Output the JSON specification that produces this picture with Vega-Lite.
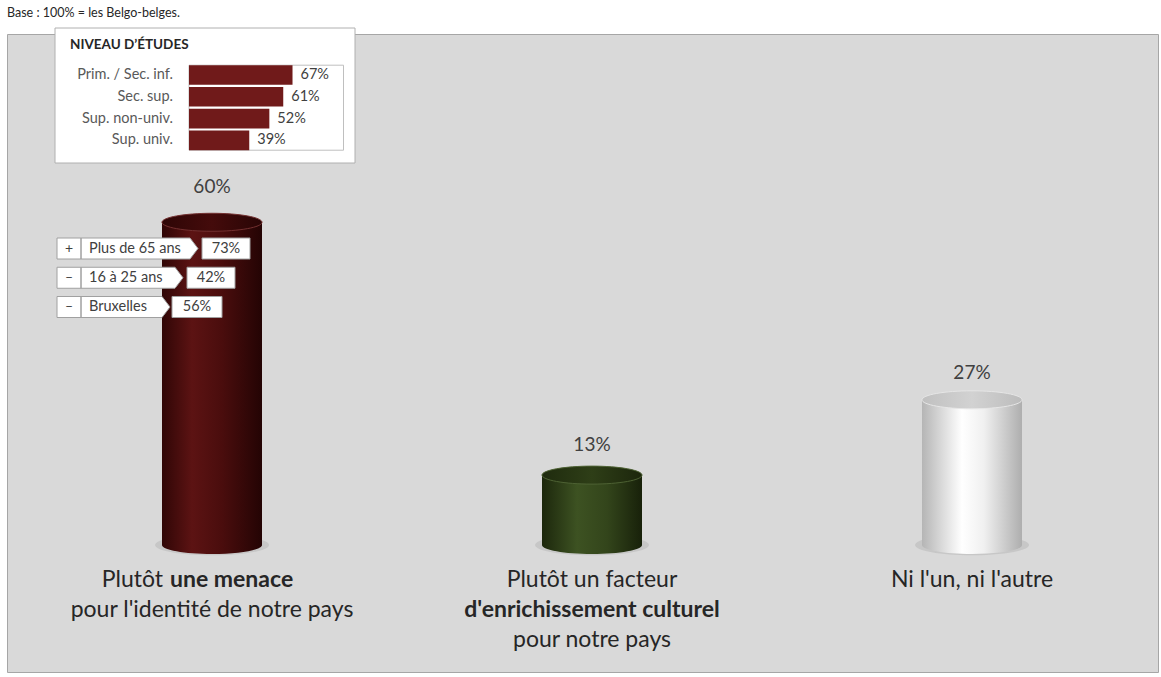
{
  "$schema": "https://vega.github.io/schema/vega-lite/v6.json",
  "autosize": {"type": "none"},
  "padding": {"left": 7, "top": 34, "right": 3, "bottom": 5},
  "width": 1151,
  "height": 638,
  "background": "#ffffff",
  "config": {"font": "Lato", "view": {"fill": "#d9d9d9", "stroke": "#a6a6a6", "strokeWidth": 1}},
  "title": {"text": "Base : 100% = les Belgo-belges.", "anchor": "start", "frame": "group", "baseline": "bottom", "offset": 12, "dy": 17, "fontSize": 12.5, "fontWeight": "normal", "font": "Lato", "color": "#262626"},
  "datasets": {
    "main": [
      {"cat": "Plutôt une menace pour l'identité de notre pays", "share": 0.60},
      {"cat": "Plutôt un facteur d'enrichissement culturel pour notre pays", "share": 0.13},
      {"cat": "Ni l'un, ni l'autre", "share": 0.27}
    ],
    "labels": [
      {"cat": "Plutôt une menace pour l'identité de notre pays", "line": 1, "text": "Plutôt", "part": "lead", "emphasis": "regular"},
      {"cat": "Plutôt une menace pour l'identité de notre pays", "line": 1, "text": "une menace", "part": "rest", "emphasis": "bold"},
      {"cat": "Plutôt une menace pour l'identité de notre pays", "line": 2, "text": "pour l'identité de notre pays", "part": "whole", "emphasis": "regular"},
      {"cat": "Plutôt un facteur d'enrichissement culturel pour notre pays", "line": 1, "text": "Plutôt un facteur", "part": "whole", "emphasis": "regular"},
      {"cat": "Plutôt un facteur d'enrichissement culturel pour notre pays", "line": 2, "text": "d'enrichissement culturel", "part": "whole", "emphasis": "bold"},
      {"cat": "Plutôt un facteur d'enrichissement culturel pour notre pays", "line": 3, "text": "pour notre pays", "part": "whole", "emphasis": "regular"},
      {"cat": "Ni l'un, ni l'autre", "line": 1, "text": "Ni l'un, ni l'autre", "part": "whole", "emphasis": "regular"}
    ],
    "callouts": [
      {"cat": "Plutôt une menace pour l'identité de notre pays", "sign": "+", "group": "Plus de 65 ans", "share": 0.73},
      {"cat": "Plutôt une menace pour l'identité de notre pays", "sign": "–", "group": "16 à 25 ans", "share": 0.42},
      {"cat": "Plutôt une menace pour l'identité de notre pays", "sign": "–", "group": "Bruxelles", "share": 0.56}
    ],
    "inset": [
      {"level": "Prim. / Sec. inf.", "share": 0.67},
      {"level": "Sec. sup.", "share": 0.61},
      {"level": "Sup. non-univ.", "share": 0.52},
      {"level": "Sup. univ.", "share": 0.39}
    ],
    "single": [{"heading": "NIVEAU D’ÉTUDES"}]
  },
  "resolve": {"scale": {"x": "independent", "y": "independent"}},
  "layer": [
    {
      "data": {"name": "main"},
      "layer": [
        {
          "transform": [{"filter": {"field": "cat", "equal": "Plutôt une menace pour l'identité de notre pays"}}],
          "layer": [
            {"mark": {"type": "point", "shape": "M-1,0C-1,-0.0994,-0.5523,-0.18,0,-0.18C0.5523,-0.18,1,-0.0994,1,0C1,0.0994,0.5523,0.18,0,0.18C-0.5523,0.18,-1,0.0994,-1,0Z", "size": 12996, "filled": true, "color": "#c2c2c2", "opacity": 0.8, "strokeWidth": 0},
             "encoding": {"x": {"field": "cat", "type": "nominal", "scale": {"domain": ["Plutôt une menace pour l'identité de notre pays", "Plutôt un facteur d'enrichissement culturel pour notre pays", "Ni l'un, ni l'autre"], "range": [15, 1155], "paddingInner": 0.7368, "paddingOuter": 0.3684}, "axis": null},
                          "y": {"datum": 0, "type": "quantitative", "scale": {"domain": [-0.236, 0.95], "nice": false, "zero": false}, "axis": null}}},
            {"mark": {"type": "bar", "width": 100, "color": {"gradient": "linear", "x1": 0, "y1": 0, "x2": 1, "y2": 0, "stops": [{"offset": 0, "color": "#300606"}, {"offset": 0.3, "color": "#5c1313"}, {"offset": 0.6, "color": "#4a0d0d"}, {"offset": 1, "color": "#240404"}]}},
             "encoding": {"x": {"field": "cat", "type": "nominal", "axis": null}, "y": {"field": "share", "type": "quantitative", "axis": null}, "y2": {"datum": 0}}},
            {"mark": {"type": "point", "shape": "M-1,0C-1,-0.0994,-0.5523,-0.18,0,-0.18C0.5523,-0.18,1,-0.0994,1,0C1,0.0994,0.5523,0.18,0,0.18C-0.5523,0.18,-1,0.0994,-1,0Z", "size": 10000, "filled": true, "opacity": 1, "strokeWidth": 0, "color": {"gradient": "linear", "x1": 0, "y1": 0, "x2": 1, "y2": 0, "stops": [{"offset": 0, "color": "#300606"}, {"offset": 0.3, "color": "#5c1313"}, {"offset": 0.6, "color": "#4a0d0d"}, {"offset": 1, "color": "#240404"}]}},
             "encoding": {"x": {"field": "cat", "type": "nominal", "axis": null}, "y": {"datum": 0, "type": "quantitative", "axis": null}}},
            {"mark": {"type": "point", "shape": "M-1,0C-1,-0.0994,-0.5523,-0.18,0,-0.18C0.5523,-0.18,1,-0.0994,1,0C1,0.0994,0.5523,0.18,0,0.18C-0.5523,0.18,-1,0.0994,-1,0Z", "size": 10000, "filled": true, "opacity": 1, "stroke": "#733030", "strokeWidth": 1, "color": {"gradient": "linear", "x1": 0, "y1": 0, "x2": 1, "y2": 0, "stops": [{"offset": 0, "color": "#2e0606"}, {"offset": 0.5, "color": "#440b0b"}, {"offset": 1, "color": "#290505"}]}},
             "encoding": {"x": {"field": "cat", "type": "nominal", "axis": null}, "y": {"field": "share", "type": "quantitative", "axis": null}}},
            {"mark": {"type": "text", "dy": -35, "fontSize": 19, "color": "#404040"},
             "encoding": {"x": {"field": "cat", "type": "nominal", "axis": null}, "y": {"field": "share", "type": "quantitative", "axis": null}, "text": {"field": "share", "type": "quantitative", "format": ".0%"}}}
          ]
        },
        {
          "transform": [{"filter": {"field": "cat", "equal": "Plutôt un facteur d'enrichissement culturel pour notre pays"}}],
          "layer": [
            {"mark": {"type": "point", "shape": "M-1,0C-1,-0.0994,-0.5523,-0.18,0,-0.18C0.5523,-0.18,1,-0.0994,1,0C1,0.0994,0.5523,0.18,0,0.18C-0.5523,0.18,-1,0.0994,-1,0Z", "size": 12996, "filled": true, "color": "#c2c2c2", "opacity": 0.8, "strokeWidth": 0},
             "encoding": {"x": {"field": "cat", "type": "nominal", "axis": null}, "y": {"datum": 0, "type": "quantitative", "axis": null}}},
            {"mark": {"type": "bar", "width": 100, "color": {"gradient": "linear", "x1": 0, "y1": 0, "x2": 1, "y2": 0, "stops": [{"offset": 0, "color": "#1c270c"}, {"offset": 0.35, "color": "#3d5222"}, {"offset": 0.65, "color": "#33451b"}, {"offset": 1, "color": "#18210a"}]}},
             "encoding": {"x": {"field": "cat", "type": "nominal", "axis": null}, "y": {"field": "share", "type": "quantitative", "axis": null}, "y2": {"datum": 0}}},
            {"mark": {"type": "point", "shape": "M-1,0C-1,-0.0994,-0.5523,-0.18,0,-0.18C0.5523,-0.18,1,-0.0994,1,0C1,0.0994,0.5523,0.18,0,0.18C-0.5523,0.18,-1,0.0994,-1,0Z", "size": 10000, "filled": true, "opacity": 1, "strokeWidth": 0, "color": {"gradient": "linear", "x1": 0, "y1": 0, "x2": 1, "y2": 0, "stops": [{"offset": 0, "color": "#1c270c"}, {"offset": 0.35, "color": "#3d5222"}, {"offset": 0.65, "color": "#33451b"}, {"offset": 1, "color": "#18210a"}]}},
             "encoding": {"x": {"field": "cat", "type": "nominal", "axis": null}, "y": {"datum": 0, "type": "quantitative", "axis": null}}},
            {"mark": {"type": "point", "shape": "M-1,0C-1,-0.0994,-0.5523,-0.18,0,-0.18C0.5523,-0.18,1,-0.0994,1,0C1,0.0994,0.5523,0.18,0,0.18C-0.5523,0.18,-1,0.0994,-1,0Z", "size": 10000, "filled": true, "opacity": 1, "stroke": "#4d6133", "strokeWidth": 1, "color": {"gradient": "linear", "x1": 0, "y1": 0, "x2": 1, "y2": 0, "stops": [{"offset": 0, "color": "#1f2b0e"}, {"offset": 0.5, "color": "#2e3e17"}, {"offset": 1, "color": "#1c260c"}]}},
             "encoding": {"x": {"field": "cat", "type": "nominal", "axis": null}, "y": {"field": "share", "type": "quantitative", "axis": null}}},
            {"mark": {"type": "text", "dy": -30, "fontSize": 19, "color": "#404040"},
             "encoding": {"x": {"field": "cat", "type": "nominal", "axis": null}, "y": {"field": "share", "type": "quantitative", "axis": null}, "text": {"field": "share", "type": "quantitative", "format": ".0%"}}}
          ]
        },
        {
          "transform": [{"filter": {"field": "cat", "equal": "Ni l'un, ni l'autre"}}],
          "layer": [
            {"mark": {"type": "point", "shape": "M-1,0C-1,-0.0994,-0.5523,-0.18,0,-0.18C0.5523,-0.18,1,-0.0994,1,0C1,0.0994,0.5523,0.18,0,0.18C-0.5523,0.18,-1,0.0994,-1,0Z", "size": 12996, "filled": true, "color": "#c2c2c2", "opacity": 0.8, "strokeWidth": 0},
             "encoding": {"x": {"field": "cat", "type": "nominal", "axis": null}, "y": {"datum": 0, "type": "quantitative", "axis": null}}},
            {"mark": {"type": "bar", "width": 100, "color": {"gradient": "linear", "x1": 0, "y1": 0, "x2": 1, "y2": 0, "stops": [{"offset": 0, "color": "#b5b5b5"}, {"offset": 0.4, "color": "#ffffff"}, {"offset": 0.62, "color": "#f0f0f0"}, {"offset": 1, "color": "#aeaeae"}]}},
             "encoding": {"x": {"field": "cat", "type": "nominal", "axis": null}, "y": {"field": "share", "type": "quantitative", "axis": null}, "y2": {"datum": 0}}},
            {"mark": {"type": "point", "shape": "M-1,0C-1,-0.0994,-0.5523,-0.18,0,-0.18C0.5523,-0.18,1,-0.0994,1,0C1,0.0994,0.5523,0.18,0,0.18C-0.5523,0.18,-1,0.0994,-1,0Z", "size": 10000, "filled": true, "opacity": 1, "strokeWidth": 0, "color": {"gradient": "linear", "x1": 0, "y1": 0, "x2": 1, "y2": 0, "stops": [{"offset": 0, "color": "#b5b5b5"}, {"offset": 0.4, "color": "#ffffff"}, {"offset": 0.62, "color": "#f0f0f0"}, {"offset": 1, "color": "#aeaeae"}]}},
             "encoding": {"x": {"field": "cat", "type": "nominal", "axis": null}, "y": {"datum": 0, "type": "quantitative", "axis": null}}},
            {"mark": {"type": "point", "shape": "M-1,0C-1,-0.0994,-0.5523,-0.18,0,-0.18C0.5523,-0.18,1,-0.0994,1,0C1,0.0994,0.5523,0.18,0,0.18C-0.5523,0.18,-1,0.0994,-1,0Z", "size": 10000, "filled": true, "opacity": 1, "stroke": "#e6e6e6", "strokeWidth": 1, "color": {"gradient": "linear", "x1": 0, "y1": 0, "x2": 1, "y2": 0, "stops": [{"offset": 0, "color": "#c0c0c0"}, {"offset": 0.5, "color": "#d2d2d2"}, {"offset": 1, "color": "#bcbcbc"}]}},
             "encoding": {"x": {"field": "cat", "type": "nominal", "axis": null}, "y": {"field": "share", "type": "quantitative", "axis": null}}},
            {"mark": {"type": "text", "dy": -27, "fontSize": 19, "color": "#404040"},
             "encoding": {"x": {"field": "cat", "type": "nominal", "axis": null}, "y": {"field": "share", "type": "quantitative", "axis": null}, "text": {"field": "share", "type": "quantitative", "format": ".0%"}}}
          ]
        }
      ]
    },
    {
      "data": {"name": "labels"},
      "encoding": {
        "x": {"field": "cat", "type": "nominal", "scale": {"domain": ["Plutôt une menace pour l'identité de notre pays", "Plutôt un facteur d'enrichissement culturel pour notre pays", "Ni l'un, ni l'autre"], "range": [15, 1155], "paddingInner": 0.7368, "paddingOuter": 0.3684}, "axis": null},
        "y": {"field": "line", "type": "quantitative", "scale": {"domain": [1, 3], "range": [546, 606], "nice": false, "zero": false}, "axis": null},
        "text": {"field": "text", "type": "nominal"}
      },
      "layer": [
        {"transform": [{"filter": {"and": [{"field": "part", "equal": "whole"}, {"field": "emphasis", "equal": "regular"}]}}],
         "mark": {"type": "text", "fontSize": 23, "color": "#262626", "align": "center", "baseline": "middle"}},
        {"transform": [{"filter": {"and": [{"field": "part", "equal": "whole"}, {"field": "emphasis", "equal": "bold"}]}}],
         "mark": {"type": "text", "fontSize": 23, "fontWeight": "bold", "color": "#262626", "align": "center", "baseline": "middle"}},
        {"transform": [{"filter": {"field": "part", "equal": "lead"}}],
         "mark": {"type": "text", "fontSize": 23, "color": "#262626", "align": "right", "baseline": "middle", "dx": -49}},
        {"transform": [{"filter": {"field": "part", "equal": "rest"}}],
         "mark": {"type": "text", "fontSize": 23, "fontWeight": "bold", "color": "#262626", "align": "left", "baseline": "middle", "dx": -42}}
      ]
    },
    {
      "data": {"name": "callouts"},
      "encoding": {
        "x": {"field": "cat", "type": "nominal", "scale": {"domain": ["Plutôt une menace pour l'identité de notre pays", "Plutôt un facteur d'enrichissement culturel pour notre pays", "Ni l'un, ni l'autre"], "range": [15, 1155], "paddingInner": 0.7368, "paddingOuter": 0.3684}, "axis": null},
        "y": {"field": "group", "type": "nominal", "scale": {"type": "point", "domain": ["Plus de 65 ans", "16 à 25 ans", "Bruxelles"], "range": [214.5, 273], "padding": 0}, "axis": null}
      },
      "layer": [
        {"transform": [{"filter": {"field": "group", "equal": "Plus de 65 ans"}}],
         "layer": [
           {"mark": {"type": "point", "shape": "M-155,-10.5H-131V10.5H-155ZM-131,-10.5H-22L-14,0L-22,10.5H-131ZM-10,-10.5H38V10.5H-10Z", "size": 4, "filled": true, "color": "#ffffff", "opacity": 1, "stroke": "#a0a0a0", "strokeWidth": 1}},
           {"mark": {"type": "text", "fontSize": 14.5, "color": "#404040", "align": "center", "baseline": "middle", "dx": 14}, "encoding": {"text": {"field": "share", "type": "quantitative", "format": ".0%"}}}
         ]},
        {"transform": [{"filter": {"field": "group", "equal": "16 à 25 ans"}}],
         "layer": [
           {"mark": {"type": "point", "shape": "M-155,-10.5H-131V10.5H-155ZM-131,-10.5H-37L-29,0L-37,10.5H-131ZM-25,-10.5H23V10.5H-25Z", "size": 4, "filled": true, "color": "#ffffff", "opacity": 1, "stroke": "#a0a0a0", "strokeWidth": 1}},
           {"mark": {"type": "text", "fontSize": 14.5, "color": "#404040", "align": "center", "baseline": "middle", "dx": -1}, "encoding": {"text": {"field": "share", "type": "quantitative", "format": ".0%"}}}
         ]},
        {"transform": [{"filter": {"field": "group", "equal": "Bruxelles"}}],
         "layer": [
           {"mark": {"type": "point", "shape": "M-155,-10.5H-131V10.5H-155ZM-131,-10.5H-50L-42,0L-50,10.5H-131ZM-40,-10.5H10V10.5H-40Z", "size": 4, "filled": true, "color": "#ffffff", "opacity": 1, "stroke": "#a0a0a0", "strokeWidth": 1}},
           {"mark": {"type": "text", "fontSize": 14.5, "color": "#404040", "align": "center", "baseline": "middle", "dx": -15}, "encoding": {"text": {"field": "share", "type": "quantitative", "format": ".0%"}}}
         ]},
        {"mark": {"type": "text", "fontSize": 14, "color": "#404040", "align": "center", "baseline": "middle", "dx": -143}, "encoding": {"text": {"field": "sign", "type": "nominal"}}},
        {"mark": {"type": "text", "fontSize": 14.5, "color": "#404040", "align": "left", "baseline": "middle", "dx": -123}, "encoding": {"text": {"field": "group", "type": "nominal"}}}
      ]
    },
    {
      "data": {"name": "single"},
      "mark": {"type": "rect", "fill": "#ffffff", "stroke": "#b0b0b0", "strokeWidth": 1},
      "encoding": {
        "x": {"datum": 0, "type": "quantitative", "scale": {"domain": [0, 1], "range": [48, 348], "nice": false, "zero": false}, "axis": null},
        "x2": {"datum": 1},
        "y": {"datum": 0, "type": "quantitative", "scale": {"domain": [0, 1], "range": [-6, 129], "nice": false, "zero": false}, "axis": null},
        "y2": {"datum": 1}
      }
    },
    {
      "layer": [
        {"data": {"name": "single"},
         "mark": {"type": "rect", "fill": "#ffffff", "stroke": "#bfbfbf", "strokeWidth": 1},
         "encoding": {
           "x": {"datum": 0, "type": "quantitative", "scale": {"domain": [0, 1], "range": [182, 336.5], "nice": false, "zero": false}, "axis": null},
           "x2": {"datum": 1},
           "y": {"datum": "Prim. / Sec. inf.", "type": "nominal", "bandPosition": 0, "scale": {"type": "band", "domain": ["Prim. / Sec. inf.", "Sec. sup.", "Sup. non-univ.", "Sup. univ."], "range": [30.1, 117.3], "paddingInner": 0.1, "paddingOuter": 0.05}, "axis": null},
           "y2": {"datum": "Sup. univ.", "bandPosition": 1}
         }},
        {"data": {"name": "inset"},
         "mark": {"type": "bar", "color": "#701a1a"},
         "encoding": {
           "x": {"field": "share", "type": "quantitative", "axis": null},
           "y": {"field": "level", "type": "nominal", "axis": null}
         }},
        {"data": {"name": "inset"},
         "mark": {"type": "text", "fontSize": 14.5, "color": "#404040", "align": "left", "baseline": "middle", "dx": 8},
         "encoding": {
           "x": {"field": "share", "type": "quantitative", "axis": null},
           "y": {"field": "level", "type": "nominal", "axis": null},
           "text": {"field": "share", "type": "quantitative", "format": ".0%"}
         }},
        {"data": {"name": "inset"},
         "mark": {"type": "text", "fontSize": 14.5, "color": "#595959", "align": "right", "baseline": "middle", "dx": -16},
         "encoding": {
           "x": {"datum": 0, "type": "quantitative", "axis": null},
           "y": {"field": "level", "type": "nominal", "axis": null},
           "text": {"field": "level", "type": "nominal"}
         }},
        {"data": {"name": "single"},
         "mark": {"type": "text", "fontSize": 13.5, "fontWeight": "bold", "color": "#262626", "align": "left", "baseline": "middle", "dx": -119, "dy": -30},
         "encoding": {
           "x": {"datum": 0, "type": "quantitative", "axis": null},
           "y": {"datum": "Prim. / Sec. inf.", "type": "nominal", "axis": null},
           "text": {"field": "heading", "type": "nominal"}
         }}
      ]
    }
  ]
}
